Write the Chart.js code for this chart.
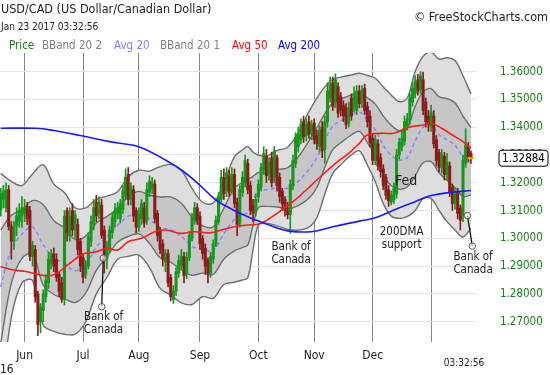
<!DOCTYPE html>
<html>
<head>
<meta charset="utf-8">
<script src="https://cdn.jsdelivr.net/npm/chart.js@4.4.1/dist/chart.umd.min.js"></script>
<style>
  html, body { margin: 0; padding: 0; background: #fff; }
  #wrap { position: relative; width: 550px; height: 375px; }
</style>
</head>
<body>
<div id="wrap"><canvas id="chart" width="550" height="375"></canvas></div>
<script>
const FONT = "'DejaVu Sans Condensed', 'Liberation Sans', sans-serif";

// Daily USD/CAD candles, index 0 = May 19 2016 ... 177 = Jan 23 2017
const opens = [
  1.3102, 1.3140, 1.3110, 1.3175, 1.3042, 1.2990, 1.3045, 1.3060, 1.3080, 1.3090,
  1.3115, 1.3100, 1.2935, 1.2960, 1.2800, 1.2700, 1.2740, 1.2790, 1.2840, 1.2910,
  1.2945, 1.2925, 1.2870, 1.2840, 1.2780, 1.3100, 1.3010, 1.3100, 1.3030, 1.3050,
  1.2990, 1.2930, 1.2870, 1.2900, 1.2990, 1.3050, 1.3130, 1.3090, 1.3120, 1.3030,
  1.2925, 1.2960, 1.3020, 1.3060, 1.3090, 1.3070, 1.3105, 1.3150, 1.3230, 1.3140,
  1.3175, 1.3100, 1.3040, 1.3070, 1.3110, 1.3065, 1.3165, 1.3180, 1.3195, 1.3090,
  1.3030, 1.2980, 1.2915, 1.2945, 1.2860, 1.2780, 1.2810, 1.2875, 1.2900, 1.2935,
  1.2870, 1.2930, 1.3000, 1.3065, 1.3110, 1.3080, 1.3000, 1.2965, 1.2920, 1.2875,
  1.2925, 1.2980, 1.3060, 1.3140, 1.3220, 1.3170, 1.3225, 1.3170, 1.3230, 1.3130,
  1.3055, 1.3165, 1.3200, 1.3270, 1.3190, 1.3120, 1.3100, 1.3150, 1.3185, 1.3245,
  1.3295, 1.3230, 1.3290, 1.3220, 1.3290, 1.3220, 1.3170, 1.3140, 1.3100, 1.3085,
  1.3190, 1.3270, 1.3330, 1.3355, 1.3420, 1.3370, 1.3420, 1.3375, 1.3415, 1.3370,
  1.3330, 1.3400, 1.3320, 1.3420, 1.3505, 1.3560, 1.3490, 1.3545, 1.3510, 1.3480,
  1.3470, 1.3415, 1.3505, 1.3470, 1.3460, 1.3530, 1.3490, 1.3540, 1.3475, 1.3440,
  1.3360, 1.3280, 1.3340, 1.3290, 1.3250, 1.3220, 1.3175, 1.3130, 1.3140, 1.3160,
  1.3300, 1.3330, 1.3350, 1.3405, 1.3425, 1.3490, 1.3520, 1.3570, 1.3535, 1.3570,
  1.3490, 1.3440, 1.3400, 1.3440, 1.3355, 1.3310, 1.3255, 1.3295, 1.3230, 1.3260,
  1.3185, 1.3125, 1.3165, 1.3110, 1.3080, 1.3270, 1.3330, 1.3305
];
const highs = [
  1.3180, 1.3190, 1.3200, 1.3190, 1.3060, 1.3060, 1.3110, 1.3125, 1.3150, 1.3140,
  1.3130, 1.3115, 1.2990, 1.2975, 1.2810, 1.2765, 1.2815, 1.2870, 1.2950, 1.2960,
  1.2965, 1.2945, 1.2880, 1.2860, 1.3100, 1.3110, 1.3110, 1.3125, 1.3100, 1.3070,
  1.3000, 1.2945, 1.2920, 1.3020, 1.3080, 1.3140, 1.3155, 1.3150, 1.3140, 1.3045,
  1.2990, 1.3045, 1.3090, 1.3125, 1.3130, 1.3140, 1.3190, 1.3250, 1.3255, 1.3200,
  1.3190, 1.3110, 1.3110, 1.3140, 1.3130, 1.3200, 1.3225, 1.3220, 1.3210, 1.3100,
  1.3040, 1.2995, 1.2960, 1.2960, 1.2870, 1.2830, 1.2895, 1.2940, 1.2960, 1.2950,
  1.2950, 1.3025, 1.3090, 1.3130, 1.3125, 1.3095, 1.3010, 1.2980, 1.2930, 1.2950,
  1.2995, 1.3080, 1.3165, 1.3245, 1.3250, 1.3255, 1.3245, 1.3255, 1.3250, 1.3145,
  1.3190, 1.3240, 1.3300, 1.3285, 1.3205, 1.3140, 1.3160, 1.3210, 1.3270, 1.3330,
  1.3320, 1.3290, 1.3310, 1.3330, 1.3300, 1.3235, 1.3180, 1.3150, 1.3130, 1.3210,
  1.3300, 1.3380, 1.3400, 1.3430, 1.3440, 1.3430, 1.3440, 1.3425, 1.3430, 1.3390,
  1.3405, 1.3420, 1.3440, 1.3560, 1.3580, 1.3580, 1.3592, 1.3560, 1.3525, 1.3495,
  1.3485, 1.3490, 1.3520, 1.3545, 1.3550, 1.3550, 1.3550, 1.3555, 1.3490, 1.3460,
  1.3375, 1.3370, 1.3355, 1.3305, 1.3265, 1.3230, 1.3190, 1.3170, 1.3200, 1.3320,
  1.3360, 1.3385, 1.3440, 1.3450, 1.3520, 1.3560, 1.3585, 1.3590, 1.3600, 1.3598,
  1.3505, 1.3460, 1.3480, 1.3460, 1.3370, 1.3320, 1.3320, 1.3310, 1.3305, 1.3275,
  1.3195, 1.3180, 1.3180, 1.3120, 1.3300, 1.3395, 1.3345, 1.3315
];
const lows = [
  1.3080, 1.3110, 1.3095, 1.3030, 1.2925, 1.2960, 1.3010, 1.3040, 1.3040, 1.3060,
  1.3050, 1.2920, 1.2900, 1.2770, 1.2650, 1.2660, 1.2700, 1.2770, 1.2820, 1.2890,
  1.2880, 1.2845, 1.2790, 1.2770, 1.2760, 1.2990, 1.2990, 1.3010, 1.3000, 1.2940,
  1.2880, 1.2840, 1.2855, 1.2890, 1.2970, 1.3030, 1.3060, 1.3070, 1.3000, 1.2875,
  1.2890, 1.2950, 1.3000, 1.3040, 1.3070, 1.3055, 1.3090, 1.3140, 1.3120, 1.3120,
  1.3060, 1.3020, 1.3025, 1.3050, 1.3040, 1.3050, 1.3150, 1.3160, 1.3055, 1.2990,
  1.2945, 1.2900, 1.2880, 1.2825, 1.2775, 1.2766, 1.2795, 1.2860, 1.2890, 1.2840,
  1.2855, 1.2920, 1.2990, 1.3050, 1.3050, 1.2960, 1.2925, 1.2870, 1.2840, 1.2860,
  1.2910, 1.2970, 1.3050, 1.3130, 1.3140, 1.3150, 1.3150, 1.3160, 1.3110, 1.3010,
  1.3040, 1.3150, 1.3185, 1.3160, 1.3085, 1.3060, 1.3080, 1.3130, 1.3170, 1.3230,
  1.3200, 1.3210, 1.3185, 1.3200, 1.3170, 1.3130, 1.3100, 1.3080, 1.3070, 1.3018,
  1.3175, 1.3255, 1.3310, 1.3340, 1.3345, 1.3350, 1.3360, 1.3355, 1.3340, 1.3320,
  1.3310, 1.3290, 1.3270, 1.3400, 1.3490, 1.3460, 1.3470, 1.3435, 1.3440, 1.3420,
  1.3395, 1.3400, 1.3425, 1.3455, 1.3445, 1.3470, 1.3470, 1.3445, 1.3400, 1.3330,
  1.3265, 1.3265, 1.3245, 1.3220, 1.3175, 1.3140, 1.3115, 1.3120, 1.3125, 1.3145,
  1.3285, 1.3315, 1.3335, 1.3390, 1.3410, 1.3475, 1.3505, 1.3515, 1.3520, 1.3445,
  1.3400, 1.3385, 1.3385, 1.3325, 1.3260, 1.3240, 1.3235, 1.3210, 1.3210, 1.3150,
  1.3100, 1.3105, 1.3070, 1.3030, 1.3060, 1.3255, 1.3275, 1.3270
];
const closes = [
  1.3162, 1.3170, 1.3175, 1.3042, 1.2990, 1.3045, 1.3080, 1.3100, 1.3110, 1.3110,
  1.3070, 1.2935, 1.2975, 1.2790, 1.2690, 1.2750, 1.2800, 1.2850, 1.2925, 1.2945,
  1.2900, 1.2860, 1.2810, 1.2780, 1.3080, 1.3020, 1.3080, 1.3030, 1.3085, 1.2960,
  1.2900, 1.2860, 1.2905, 1.3005, 1.3060, 1.3110, 1.3080, 1.3130, 1.3010, 1.2935,
  1.2970, 1.3030, 1.3075, 1.3100, 1.3110, 1.3125, 1.3170, 1.3220, 1.3140, 1.3185,
  1.3080, 1.3040, 1.3090, 1.3125, 1.3055, 1.3175, 1.3205, 1.3200, 1.3070, 1.3010,
  1.2960, 1.2925, 1.2945, 1.2840, 1.2790, 1.2810, 1.2880, 1.2920, 1.2935, 1.2865,
  1.2930, 1.3010, 1.3075, 1.3110, 1.3065, 1.2980, 1.2945, 1.2900, 1.2875, 1.2935,
  1.2980, 1.3065, 1.3150, 1.3220, 1.3160, 1.3235, 1.3165, 1.3230, 1.3125, 1.3050,
  1.3175, 1.3220, 1.3280, 1.3175, 1.3100, 1.3090, 1.3140, 1.3195, 1.3255, 1.3305,
  1.3225, 1.3275, 1.3200, 1.3315, 1.3190, 1.3150, 1.3125, 1.3100, 1.3085, 1.3195,
  1.3280, 1.3365, 1.3375, 1.3410, 1.3365, 1.3410, 1.3375, 1.3410, 1.3355, 1.3340,
  1.3390, 1.3315, 1.3420, 1.3530, 1.3555, 1.3475, 1.3570, 1.3450, 1.3460, 1.3440,
  1.3410, 1.3470, 1.3440, 1.3520, 1.3530, 1.3485, 1.3535, 1.3460, 1.3420, 1.3345,
  1.3280, 1.3355, 1.3260, 1.3240, 1.3190, 1.3155, 1.3135, 1.3155, 1.3180, 1.3300,
  1.3345, 1.3360, 1.3420, 1.3430, 1.3505, 1.3540, 1.3565, 1.3530, 1.3585, 1.3460,
  1.3420, 1.3410, 1.3455, 1.3340, 1.3280, 1.3255, 1.3300, 1.3230, 1.3275, 1.3165,
  1.3125, 1.3165, 1.3090, 1.3065, 1.3280, 1.3335, 1.3295, 1.3288
];

// Bollinger bands and 20-day average, read at every few trading days
const bandDays = [0, 4, 8, 12, 16, 20, 24, 28, 32, 36, 40, 44, 48, 52, 56, 60, 64, 68, 72, 76,
  80, 84, 88, 91, 93, 95, 97, 100, 104, 108, 112, 116, 119, 122, 125, 128, 132, 135, 138, 141,
  144, 147, 150, 153, 156, 159, 162, 165, 168, 171, 174, 177];
const bb2Upper = [1.3234, 1.3205, 1.3190, 1.3232, 1.3265, 1.3195, 1.3165, 1.3110, 1.3110, 1.3140,
  1.3152, 1.3168, 1.3222, 1.3245, 1.3242, 1.3258, 1.3266, 1.3245, 1.3180, 1.3130,
  1.3127, 1.3200, 1.3294, 1.3318, 1.3330, 1.3310, 1.3300, 1.3296, 1.3316, 1.3328,
  1.3380, 1.3455, 1.3505, 1.3545, 1.3572, 1.3580, 1.3588, 1.3594, 1.3586, 1.3576,
  1.3545, 1.3516, 1.3492, 1.3504, 1.3600, 1.3655, 1.3670, 1.3645, 1.3650, 1.3640,
  1.3585, 1.3520];
const bb1Upper = [1.3030, 1.3083, 1.3103, 1.3136, 1.3121, 1.3063, 1.3038, 1.2996, 1.3008, 1.3055,
  1.3079, 1.3107, 1.3150, 1.3169, 1.3155, 1.3149, 1.3149, 1.3126, 1.3076, 1.3045,
  1.3041, 1.3109, 1.3181, 1.3201, 1.3212, 1.3223, 1.3237, 1.3236, 1.3248, 1.3254,
  1.3293, 1.3351, 1.3398, 1.3449, 1.3488, 1.3501, 1.3516, 1.3524, 1.3506, 1.3483,
  1.3440, 1.3407, 1.3387, 1.3398, 1.3475, 1.3527, 1.3539, 1.3509, 1.3503, 1.3488,
  1.3440, 1.3399];
const avg20 = [1.2826, 1.2960, 1.3015, 1.3040, 1.2977, 1.2930, 1.2910, 1.2883, 1.2905, 1.2970,
  1.3006, 1.3047, 1.3079, 1.3093, 1.3069, 1.3039, 1.3031, 1.3007, 1.2971, 1.2960,
  1.2956, 1.3017, 1.3068, 1.3084, 1.3094, 1.3135, 1.3174, 1.3175, 1.3181, 1.3180,
  1.3205, 1.3248, 1.3290, 1.3353, 1.3403, 1.3423, 1.3444, 1.3455, 1.3425, 1.3390,
  1.3335, 1.3298, 1.3282, 1.3291, 1.3350, 1.3400, 1.3407, 1.3373, 1.3355, 1.3335,
  1.3295, 1.3278];
const bb1Lower = [1.2622, 1.2838, 1.2928, 1.2944, 1.2832, 1.2798, 1.2783, 1.2769, 1.2803, 1.2885,
  1.2933, 1.2986, 1.3007, 1.3016, 1.2982, 1.2930, 1.2914, 1.2887, 1.2867, 1.2875,
  1.2870, 1.2926, 1.2955, 1.2967, 1.2976, 1.3048, 1.3111, 1.3115, 1.3113, 1.3106,
  1.3118, 1.3144, 1.3183, 1.3256, 1.3319, 1.3344, 1.3372, 1.3385, 1.3345, 1.3297,
  1.3230, 1.3189, 1.3177, 1.3185, 1.3225, 1.3272, 1.3276, 1.3236, 1.3208, 1.3183,
  1.3150, 1.3157];
const bb2Lower = [1.2418, 1.2715, 1.2840, 1.2848, 1.2688, 1.2665, 1.2655, 1.2655, 1.2700, 1.2800,
  1.2860, 1.2925, 1.2935, 1.2940, 1.2895, 1.2820, 1.2796, 1.2768, 1.2762, 1.2790,
  1.2784, 1.2834, 1.2842, 1.2850, 1.2858, 1.2960, 1.3048, 1.3054, 1.3045, 1.3032,
  1.3030, 1.3040, 1.3075, 1.3160, 1.3234, 1.3265, 1.3300, 1.3315, 1.3264, 1.3204,
  1.3125, 1.3080, 1.3072, 1.3078, 1.3100, 1.3144, 1.3144, 1.3100, 1.3060, 1.3030,
  1.3005, 1.3036];

const avg50Days = [0, 5, 10, 15, 19, 22, 26, 31, 36, 40, 44, 48, 53, 58, 62, 68, 73, 79, 83, 88,
  93, 98, 104, 110, 115, 119, 126, 131, 135, 138, 144, 148, 153, 159, 162, 166, 170, 174, 177];
const avg50 = [1.2898, 1.2886, 1.2880, 1.2868, 1.2866, 1.2880, 1.2910, 1.2944, 1.2952, 1.2965,
  1.2958, 1.2988, 1.3000, 1.3024, 1.3030, 1.3018, 1.3024, 1.3020, 1.3030, 1.3042,
  1.3048, 1.3054, 1.3090, 1.3132, 1.3174, 1.3210, 1.3270, 1.3306, 1.3342, 1.3372,
  1.3378, 1.3378, 1.3398, 1.3408, 1.3414, 1.3396, 1.3372, 1.3348, 1.3325];

const avg200Days = [0, 13, 20, 30, 41, 45, 52, 62, 68, 74, 81, 86, 90, 96, 101, 108, 117, 125,
  135, 141, 148, 156, 162, 170, 177];
const avg200 = [1.3396, 1.3396, 1.3388, 1.3370, 1.3348, 1.3342, 1.3330, 1.3282, 1.3246, 1.3200,
  1.3138, 1.3110, 1.3090, 1.3066, 1.3048, 1.3027, 1.3024, 1.3042, 1.3062, 1.3074,
  1.3102, 1.3132, 1.3154, 1.3166, 1.3172];

// month gridlines (first trading day index) and their labels
const monthDays = [9, 31, 52, 75, 97, 118, 140, 162];
const monthLabels = ["Jun", "Jul", "Aug", "Sep", "Oct", "Nov", "Dec", ""];
const priceTicks = [1.27, 1.28, 1.29, 1.30, 1.31, 1.32, 1.33, 1.34, 1.35, 1.36];
const lastPrice = 1.32884;

const legendItems = [
  { text: "Price", color: "#1a7a1a", x: 9 },
  { text: "BBand 20 2", color: "#808080", x: 42 },
  { text: "Avg 20", color: "#8080ff", x: 114 },
  { text: "BBand 20 1", color: "#808080", x: 160 },
  { text: "Avg 50", color: "#ff0000", x: 232 },
  { text: "Avg 200", color: "#0000ff", x: 278 },
];

// chart notes: anchor is [day index, price]
const notes = [
  { lines: ["Bank of", "Canada"], at: [38.7, 1.2718] },
  { lines: ["Bank of", "Canada"], at: [109.3, 1.2970] },
  { lines: ["200DMA", "support"], at: [150.9, 1.3024] },
  { lines: ["Fed"], at: [152.6, 1.3204], size: 14 },
  { lines: ["Bank of", "Canada"], at: [177.8, 1.2933] },
];
const pointers = [
  [[38.62, 1.2929], [38.02, 1.2754]],
  [[175.7, 1.3082], [177.5, 1.2972]],
];

const GREEN = "#16961a";
const RED = "#8b1a1a";
const isUp = (i) => closes[i] >= opens[i];
const days = closes.map((c, i) => i);
const pts = (xs, ys) => xs.map((x, i) => ({ x: x, y: ys[i] }));

const lineBase = {
  type: "line",
  pointRadius: 0,
  pointHoverRadius: 0,
  tension: 0.35,
  fill: false,
};

const overlay = {
  id: "overlay",
  afterDraw(chart) {
    const ctx = chart.ctx;
    const xs = chart.scales.x, ys = chart.scales.y;
    const px = (v) => xs.getPixelForValue(v);
    const py = (v) => ys.getPixelForValue(v);
    ctx.save();
    ctx.textBaseline = "middle";

    // header
    ctx.fillStyle = "#222";
    ctx.textAlign = "left";
    ctx.font = "12.5px " + FONT;
    ctx.fillText("USD/CAD (US Dollar/Canadian Dollar)", 1, 10);
    ctx.font = "10px " + FONT;
    ctx.fillText("Jan 23 2017 03:32:56", 1, 27);
    ctx.textAlign = "right";
    ctx.font = "12.5px " + FONT;
    ctx.fillText("\u00a9 FreeStockCharts.com", 548, 18);
    ctx.textAlign = "left";
    ctx.font = "11.5px " + FONT;
    legendItems.forEach((it) => {
      ctx.fillStyle = it.color;
      ctx.fillText(it.text, it.x, 46);
    });

    // extra axis text
    ctx.fillStyle = "#222";
    ctx.font = "12px " + FONT;
    ctx.fillText("16", 0, 370);
    ctx.textAlign = "center";
    ctx.font = "10px " + FONT;
    ctx.fillText("03:32:56", 464, 363);

    // pointer lines with circles
    pointers.forEach(([a, b]) => {
      ctx.strokeStyle = "#111";
      ctx.lineWidth = 1.3;
      ctx.beginPath();
      ctx.moveTo(px(a[0]), py(a[1]));
      ctx.lineTo(px(b[0]), py(b[1]));
      ctx.stroke();
      [a, b].forEach((p) => {
        ctx.beginPath();
        ctx.arc(px(p[0]), py(p[1]), 3.2, 0, Math.PI * 2);
        ctx.fillStyle = "rgba(255,255,255,0.6)";
        ctx.fill();
        ctx.strokeStyle = "#555";
        ctx.lineWidth = 1;
        ctx.stroke();
      });
    });

    // notes
    ctx.fillStyle = "#222";
    notes.forEach((n) => {
      const size = n.size || 11.5;
      ctx.font = size + "px " + FONT;
      n.lines.forEach((t, k) => {
        ctx.fillText(t, px(n.at[0]), py(n.at[1]) + k * 13);
      });
    });

    // last price marker and box
    const yp = py(lastPrice);
    const lastX = px(days[days.length - 1]);
    ctx.strokeStyle = "#f0b000";
    ctx.lineWidth = 2;
    ctx.beginPath();
    ctx.moveTo(lastX - 3, yp);
    ctx.lineTo(lastX + 3, yp);
    ctx.stroke();

    const bx = 499, bw = 49, bh = 16, by = yp - 8, r = 3;
    ctx.beginPath();
    ctx.moveTo(bx + r, by);
    ctx.arcTo(bx + bw, by, bx + bw, by + bh, r);
    ctx.arcTo(bx + bw, by + bh, bx, by + bh, r);
    ctx.arcTo(bx, by + bh, bx, by, r);
    ctx.arcTo(bx, by, bx + bw, by, r);
    ctx.closePath();
    ctx.fillStyle = "#fff";
    ctx.fill();
    ctx.strokeStyle = "#000";
    ctx.lineWidth = 1;
    ctx.stroke();
    ctx.fillStyle = "#000";
    ctx.font = "11.5px " + FONT;
    ctx.textAlign = "center";
    ctx.fillText(lastPrice.toFixed(5), bx + bw / 2, yp + 0.5);
    ctx.restore();
  },
};

new Chart(document.getElementById("chart"), {
  type: "bar",
  data: {
    datasets: [
      {
        ...lineBase,
        label: "BBand 20 2",
        data: pts(bandDays, bb2Upper),
        borderColor: "#6e6e6e",
        borderWidth: 1.4,
        backgroundColor: "#dedede",
        fill: "+1",
        order: 20,
      },
      {
        ...lineBase,
        label: "BBand 20 2 lower",
        data: pts(bandDays, bb2Lower),
        borderColor: "#6e6e6e",
        borderWidth: 1.4,
        order: 19,
      },
      {
        ...lineBase,
        label: "BBand 20 1",
        data: pts(bandDays, bb1Upper),
        borderColor: "#6e6e6e",
        borderWidth: 1.4,
        backgroundColor: "#c6c6c6",
        fill: "+1",
        order: 18,
      },
      {
        ...lineBase,
        label: "BBand 20 1 lower",
        data: pts(bandDays, bb1Lower),
        borderColor: "#6e6e6e",
        borderWidth: 1.4,
        order: 17,
      },
      {
        ...lineBase,
        label: "Avg 20",
        data: pts(bandDays, avg20),
        borderColor: "#8585ff",
        borderWidth: 1.5,
        borderDash: [4, 3],
        order: 16,
      },
      {
        label: "wicks",
        data: days.map((i) => ({ x: i, y: [lows[i], highs[i]] })),
        backgroundColor: (c) => (isUp(c.dataIndex) ? GREEN : RED),
        barThickness: 1,
        grouped: false,
        order: 10,
      },
      {
        label: "Price",
        data: days.map((i) => ({ x: i, y: [opens[i], closes[i]] })),
        backgroundColor: (c) => (isUp(c.dataIndex) ? GREEN : RED),
        barThickness: 2.4,
        minBarLength: 1,
        grouped: false,
        order: 9,
      },
      {
        ...lineBase,
        label: "Avg 50",
        data: pts(avg50Days, avg50),
        borderColor: "#ff1a1a",
        borderWidth: 1.6,
        tension: 0.4,
        order: 2,
      },
      {
        ...lineBase,
        label: "Avg 200",
        data: pts(avg200Days, avg200),
        borderColor: "#1a1aff",
        borderWidth: 1.6,
        tension: 0.4,
        order: 1,
      },
    ],
  },
  options: {
    responsive: false,
    animation: false,
    events: [],
    layout: { padding: { top: 53, left: 0, right: 0, bottom: 0 } },
    plugins: {
      legend: { display: false },
      tooltip: { enabled: false },
    },
    scales: {
      x: {
        type: "linear",
        min: -0.26,
        max: 178.9,
        offset: false,
        border: { display: false },
        grid: { offset: false, color: "#858585", lineWidth: 1, drawTicks: false },
        afterBuildTicks: (scale) => {
          scale.ticks = monthDays.map((v) => ({ value: v }));
        },
        afterFit: (scale) => {
          scale.height = 33;
        },
        ticks: {
          autoSkip: false,
          maxRotation: 0,
          padding: 7,
          color: "#222",
          font: { family: FONT, size: 12 },
          callback: (v, i) => monthLabels[i],
        },
      },
      y: {
        type: "linear",
        position: "right",
        min: 1.2627,
        max: 1.3667,
        border: { display: false },
        grid: { color: "#e2e2e2", lineWidth: 1, drawTicks: false },
        afterBuildTicks: (scale) => {
          scale.ticks = priceTicks.map((v) => ({ value: v }));
        },
        afterFit: (scale) => {
          scale.width = 74;
        },
        ticks: {
          padding: 24,
          color: "#178017",
          font: { family: FONT, size: 11.5 },
          callback: (v) => v.toFixed(5),
        },
      },
    },
  },
  plugins: [overlay],
});
</script>
</body>
</html>
